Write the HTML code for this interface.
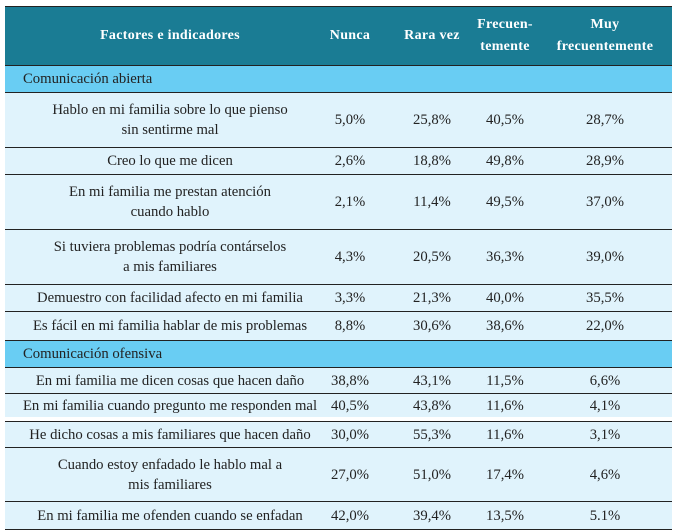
<!DOCTYPE html>
<html><head><meta charset="utf-8">
<style>
body{margin:0;width:675px;height:532px;background:#fff;overflow:hidden;font-family:"Liberation Serif",serif;}
.r{position:absolute;left:5px;width:667px;border-top:1px solid #222;box-sizing:border-box;}
.c{position:absolute;top:0;bottom:0;display:flex;align-items:center;justify-content:center;text-align:center;font-size:14.7px;color:#222;line-height:20px;}
.h .c{color:#fff;font-weight:bold;font-size:14px;letter-spacing:0.3px;line-height:22px}
.s .c{justify-content:flex-start;padding-left:18px;}
</style></head><body>
<div id="t"></div>
<script>
const rows=[
 ["h",6,65,["Factores e indicadores","Nunca","Rara vez","Frecuen-<br>temente","Muy<br>frecuentemente"]],
 ["s",65,92,["Comunicación abierta"]],
 ["d",92,147,["Hablo en mi familia sobre lo que pienso<br>sin sentirme mal","5,0%","25,8%","40,5%","28,7%"]],
 ["d",147,174,["Creo lo que me dicen","2,6%","18,8%","49,8%","28,9%"]],
 ["d",174,229,["En mi familia me prestan atención<br>cuando hablo","2,1%","11,4%","49,5%","37,0%"]],
 ["d",229,284,["Si tuviera problemas podría contárselos<br>a mis familiares","4,3%","20,5%","36,3%","39,0%"]],
 ["d",284,311,["Demuestro con facilidad afecto en mi familia","3,3%","21,3%","40,0%","35,5%"]],
 ["d",311,340,["Es fácil en mi familia hablar de mis problemas","8,8%","30,6%","38,6%","22,0%"]],
 ["s",340,367,["Comunicación ofensiva"]],
 ["d",367,393,["En mi familia me dicen cosas que hacen daño","38,8%","43,1%","11,5%","6,6%"]],
 ["d",393,417,["En mi familia cuando pregunto me responden mal","40,5%","43,8%","11,6%","4,1%"]],
 ["d",421,447,["He dicho cosas a mis familiares que hacen daño","30,0%","55,3%","11,6%","3,1%"]],
 ["d",447,501,["Cuando estoy enfadado le hablo mal a<br>mis familiares","27,0%","51,0%","17,4%","4,6%"]],
 ["d",501,529,["En mi familia me ofenden cuando se enfadan","42,0%","39,4%","13,5%","5.1%"]]
];
const cols=[[0,330],[305,80],[387,80],[467,66],[533,134]];
const bg={h:"#1a7c94",s:"#69cdf3",d:"#e0f3fc"};
const t=document.getElementById('t');
rows.forEach((r,i)=>{
 const d=document.createElement('div');
 
 
 d.className='r '+r[0];
 d.style.top=r[1]+'px';d.style.height=(r[2]-r[1])+'px';d.style.background=bg[r[0]];
 r[3].forEach((txt,j)=>{
  const c=document.createElement('div');
  
  
  c.className='c';
  if(r[0]==='s'){c.style.left='0';c.style.width='667px';}
  else{c.style.left=cols[j][0]+'px';c.style.width=cols[j][1]+'px';}
  c.innerHTML=txt;d.appendChild(c);
 });
 t.appendChild(d);
});
const b=document.createElement('div');


b.style.cssText='position:absolute;left:5px;width:667px;top:529px;border-top:1px solid #222';
t.appendChild(b);
</script>
</body></html>
